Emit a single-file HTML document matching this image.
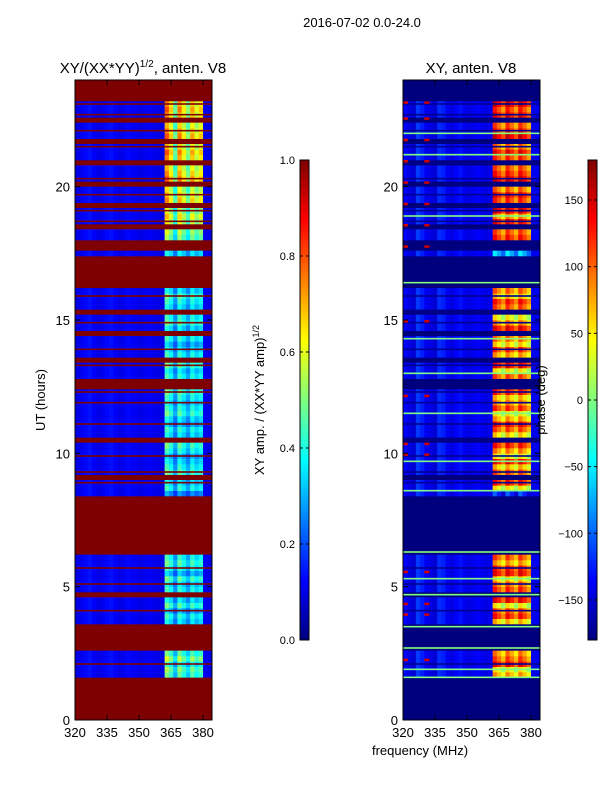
<!DOCTYPE html>
<html><head><meta charset="utf-8"><style>
body{margin:0;background:#fff}
svg{display:block;font-family:"Liberation Sans",sans-serif}
</style></head><body>
<svg id="c" width="600" height="800" xmlns="http://www.w3.org/2000/svg">
<rect width="600" height="800" fill="#fff"/>
<text x="362" y="27" font-size="13" text-anchor="middle">2016-07-02 0.0-24.0</text>
<text x="143" y="73" font-size="15" text-anchor="middle">XY/(XX*YY)<tspan font-size="10" dy="-6">1/2</tspan><tspan dy="6">, anten. V8</tspan></text>
<text x="471" y="73" font-size="15" text-anchor="middle">XY, anten. V8</text>
<g id="left"></g>
<g id="right"></g>
<g id="axes"></g>
<text transform="translate(45,400) rotate(-90)" font-size="13" text-anchor="middle">UT (hours)</text>
<text x="420" y="755" font-size="13" text-anchor="middle">frequency (MHz)</text>
<text transform="translate(264,400) rotate(-90)" font-size="13" text-anchor="middle">XY amp. / (XX*YY amp)<tspan font-size="9" dy="-5">1/2</tspan></text>
<text transform="translate(545,400) rotate(-90)" font-size="13" text-anchor="middle">phase (deg)</text>
</svg>
<script>
const freqTicks=[320,335,350,365,380];
const hourTicks=[0,5,10,15,20];
const ampTicks=[0.0,0.2,0.4,0.6,0.8,1.0];
const phaseTicks=[-150,-100,-50,0,50,100,150];
// per 0.2-hour row: RFI amplitude (null = flagged)
const ampRows=[null,null,null,null,null,null,null,null,0.5,0.55,0.45,0.6,0.5,null,null,null,null,null,
0.4,0.45,0.35,0.5,0.4,null,0.45,0.4,0.5,0.35,0.45,0.5,0.45,null,null,null,null,null,null,null,null,null,null,null,0.3,
0.45,0.4,null,0.5,0.45,0.4,0.35,0.45,0.5,null,0.4,0.45,0.35,0.4,0.5,0.45,0.4,0.45,0.5,null,null,0.45,0.4,0.5,null,0.45,0.4,0.35,0.45,null,0.4,0.5,0.45,null,0.4,0.45,0.5,0.4,
null,null,null,null,null,null,0.4,null,null,
0.55,0.6,null,0.65,0.7,0.6,null,0.75,0.7,0.65,null,0.8,0.75,0.7,null,0.75,0.8,0.7,null,0.8,0.75,0.7,null,0.75,0.8,0.75,null,null,null];
// per-row phase of RFI region (deg)
const phaseRows=[0,0,0,0,0,0,0,0,90,60,150,120,100,0,0,0,0,0,
80,140,120,60,150,0,130,110,70,150,140,90,120,0,0,0,0,0,0,0,0,0,0,0,-100,
60,140,0,120,80,150,60,100,140,0,70,120,150,90,60,130,100,80,140,0,0,120,60,150,0,90,130,70,110,0,150,100,60,0,120,140,80,110,
0,0,0,0,0,0,-50,0,0,
140,120,0,150,100,160,0,130,150,110,0,160,140,120,0,130,150,110,0,160,140,120,0,150,130,160,0,0,0];
// column weights for 2-MHz columns 320..384
const colWeight=[0.1,0.11,0.13,0.14,0.12,0.1,0.11,0.13,0.14,0.12,0.1,0.11,0.13,0.12,0.11,0.1,0.11,0.12,0.11,0.1,0.1,1.0,0.85,0.6,0.95,0.8,0.65,0.9,0.75,0.85,0.11,0.1];
const lowPhase=[-135,-145,-150,-115,-125,-140,-145,-150,-120,-125,-140,-145,-135,-130,-140,-145,-140,-135,-140,-145,-140];
const greenLines=[1.6,1.9,2.7,3.5,4.7,5.3,6.3,8.6,9.7,11.5,13.0,14.3,16.4,18.9,21.2,22.0];
const redHours=[2.2,3.9,4.3,5.5,9.9,10.3,12.1,14.9,17.7,18.5,19.3,20.1,20.9,21.7,22.5,23.1];
// thin flagged stripes inside valid data (hours)
const thinFlags=[2.1,4.1,5.1,5.7,8.9,9.3,9.9,10.5,11.1,11.9,12.3,13.3,13.9,14.9,15.3,15.9,18.7,19.1,19.7,20.3,20.9,21.5,22.1,22.7,23.1];

function jet(t){t=Math.max(0,Math.min(1,t));
 const f=x=>Math.round(255*Math.max(0,Math.min(1,x)));
 return `rgb(${f(1.5-Math.abs(4*t-3))},${f(1.5-Math.abs(4*t-2))},${f(1.5-Math.abs(4*t-1))})`;}
const NS='http://www.w3.org/2000/svg';
function mk(tag,at,parent){const e=document.createElementNS(NS,tag);for(const k in at)e.setAttribute(k,at[k]);parent.appendChild(e);return e;}
const Y=h=>720-h*(640/24);
function X(f,x0){return x0+(f-320)*(137/64.2);}
const L=document.getElementById('left'),R=document.getElementById('right'),A=document.getElementById('axes');
function panel(g,x0,isPhase){
 const bg=mk('rect',{x:x0,y:80,width:137,height:640,fill:isPhase?'#00007f':'#7f0000'},g);
 
 
 ampRows.forEach((a,r)=>{
  if(a===null)return;
  colWeight.forEach((w,c)=>{
   let col;
   if(isPhase){
    const v=c<21?lowPhase[c]:(c>=30?-140:phaseRows[r]-(c%3)*25);
    col=jet((v+180)/360);
   }else{
    const v=c<21||c>=30?w:a*w;
    col=jet(v);
   }
   const f=320+c*2;
   const x1=X(f,x0),x2=X(Math.min(f+2,384),x0);
   const el=mk('rect',{x:x1,y:Y(r*0.2+0.2),width:x2-x1+0.3,height:640/120+0.3,fill:col},g);
   
   
  });
 });
 thinFlags.forEach(h=>{
  const el=mk('rect',{x:x0,y:Y(h)-0.8,width:137,height:1.6,fill:isPhase?'#00008f':'#7f0000'},g);
  
  
 });
 if(isPhase){
  redHours.forEach(h=>{
   [320,330].forEach(f=>{
    const el=mk('rect',{x:X(f,x0),y:Y(h+0.1),width:5,height:2.5,fill:'#d00000'},g);
    
    
   });
  });
  greenLines.forEach(h=>{
   const el=mk('rect',{x:x0,y:Y(h)-0.8,width:137,height:1.6,fill:'#80ff80'},g);
   
   
  });
 }
 const fr=mk('rect',{x:x0,y:80,width:137,height:640,fill:'none',stroke:'#000','stroke-width':1},A);
 
 
 freqTicks.forEach(f=>{
  const x=X(f,x0);
  mk('line',{x1:x,x2:x,y1:720,y2:715,stroke:'#000'},A);
  mk('line',{x1:x,x2:x,y1:80,y2:85,stroke:'#000'},A);
  const t=mk('text',{x:x,y:737,'font-size':13,'text-anchor':'middle'},A);t.textContent=f;
  
  
 });
 hourTicks.forEach(h=>{
  const y=Y(h);
  mk('line',{x1:x0,x2:x0+5,y1:y,y2:y,stroke:'#000'},A);
  mk('line',{x1:x0+137,x2:x0+132,y1:y,y2:y,stroke:'#000'},A);
  const t=mk('text',{x:x0-5,y:y+5,'font-size':13,'text-anchor':'end'},A);t.textContent=h;
  
  
 });
}
panel(L,75,false);panel(R,403,true);
function cbar(x0,ticks,lo,hi,name){
 for(let i=0;i<240;i++){
  const el=mk('rect',{x:x0,y:640-(i+1)*2,width:9,height:2.3,fill:jet((i+0.5)/240)},A);
  
  
 }
 const fr=mk('rect',{x:x0,y:160,width:9,height:480,fill:'none',stroke:'#000'},A);
 
 
 ticks.forEach(v=>{
  const y=640-(v-lo)/(hi-lo)*480;
  mk('line',{x1:x0,x2:x0+3,y1:y,y2:y,stroke:'#000'},A);
  mk('line',{x1:x0+9,x2:x0+6,y1:y,y2:y,stroke:'#000'},A);
  const t=mk('text',{x:x0-5,y:y+4,'font-size':11,'text-anchor':'end'},A);
  t.textContent=name==='amp-colorbar'?v.toFixed(1):String(v).replace('-','\u2212');
  
  
 });
}
cbar(300,ampTicks,0,1,'amp-colorbar');
cbar(588,phaseTicks,-180,180,'phase-colorbar');
</script>
</body></html>
